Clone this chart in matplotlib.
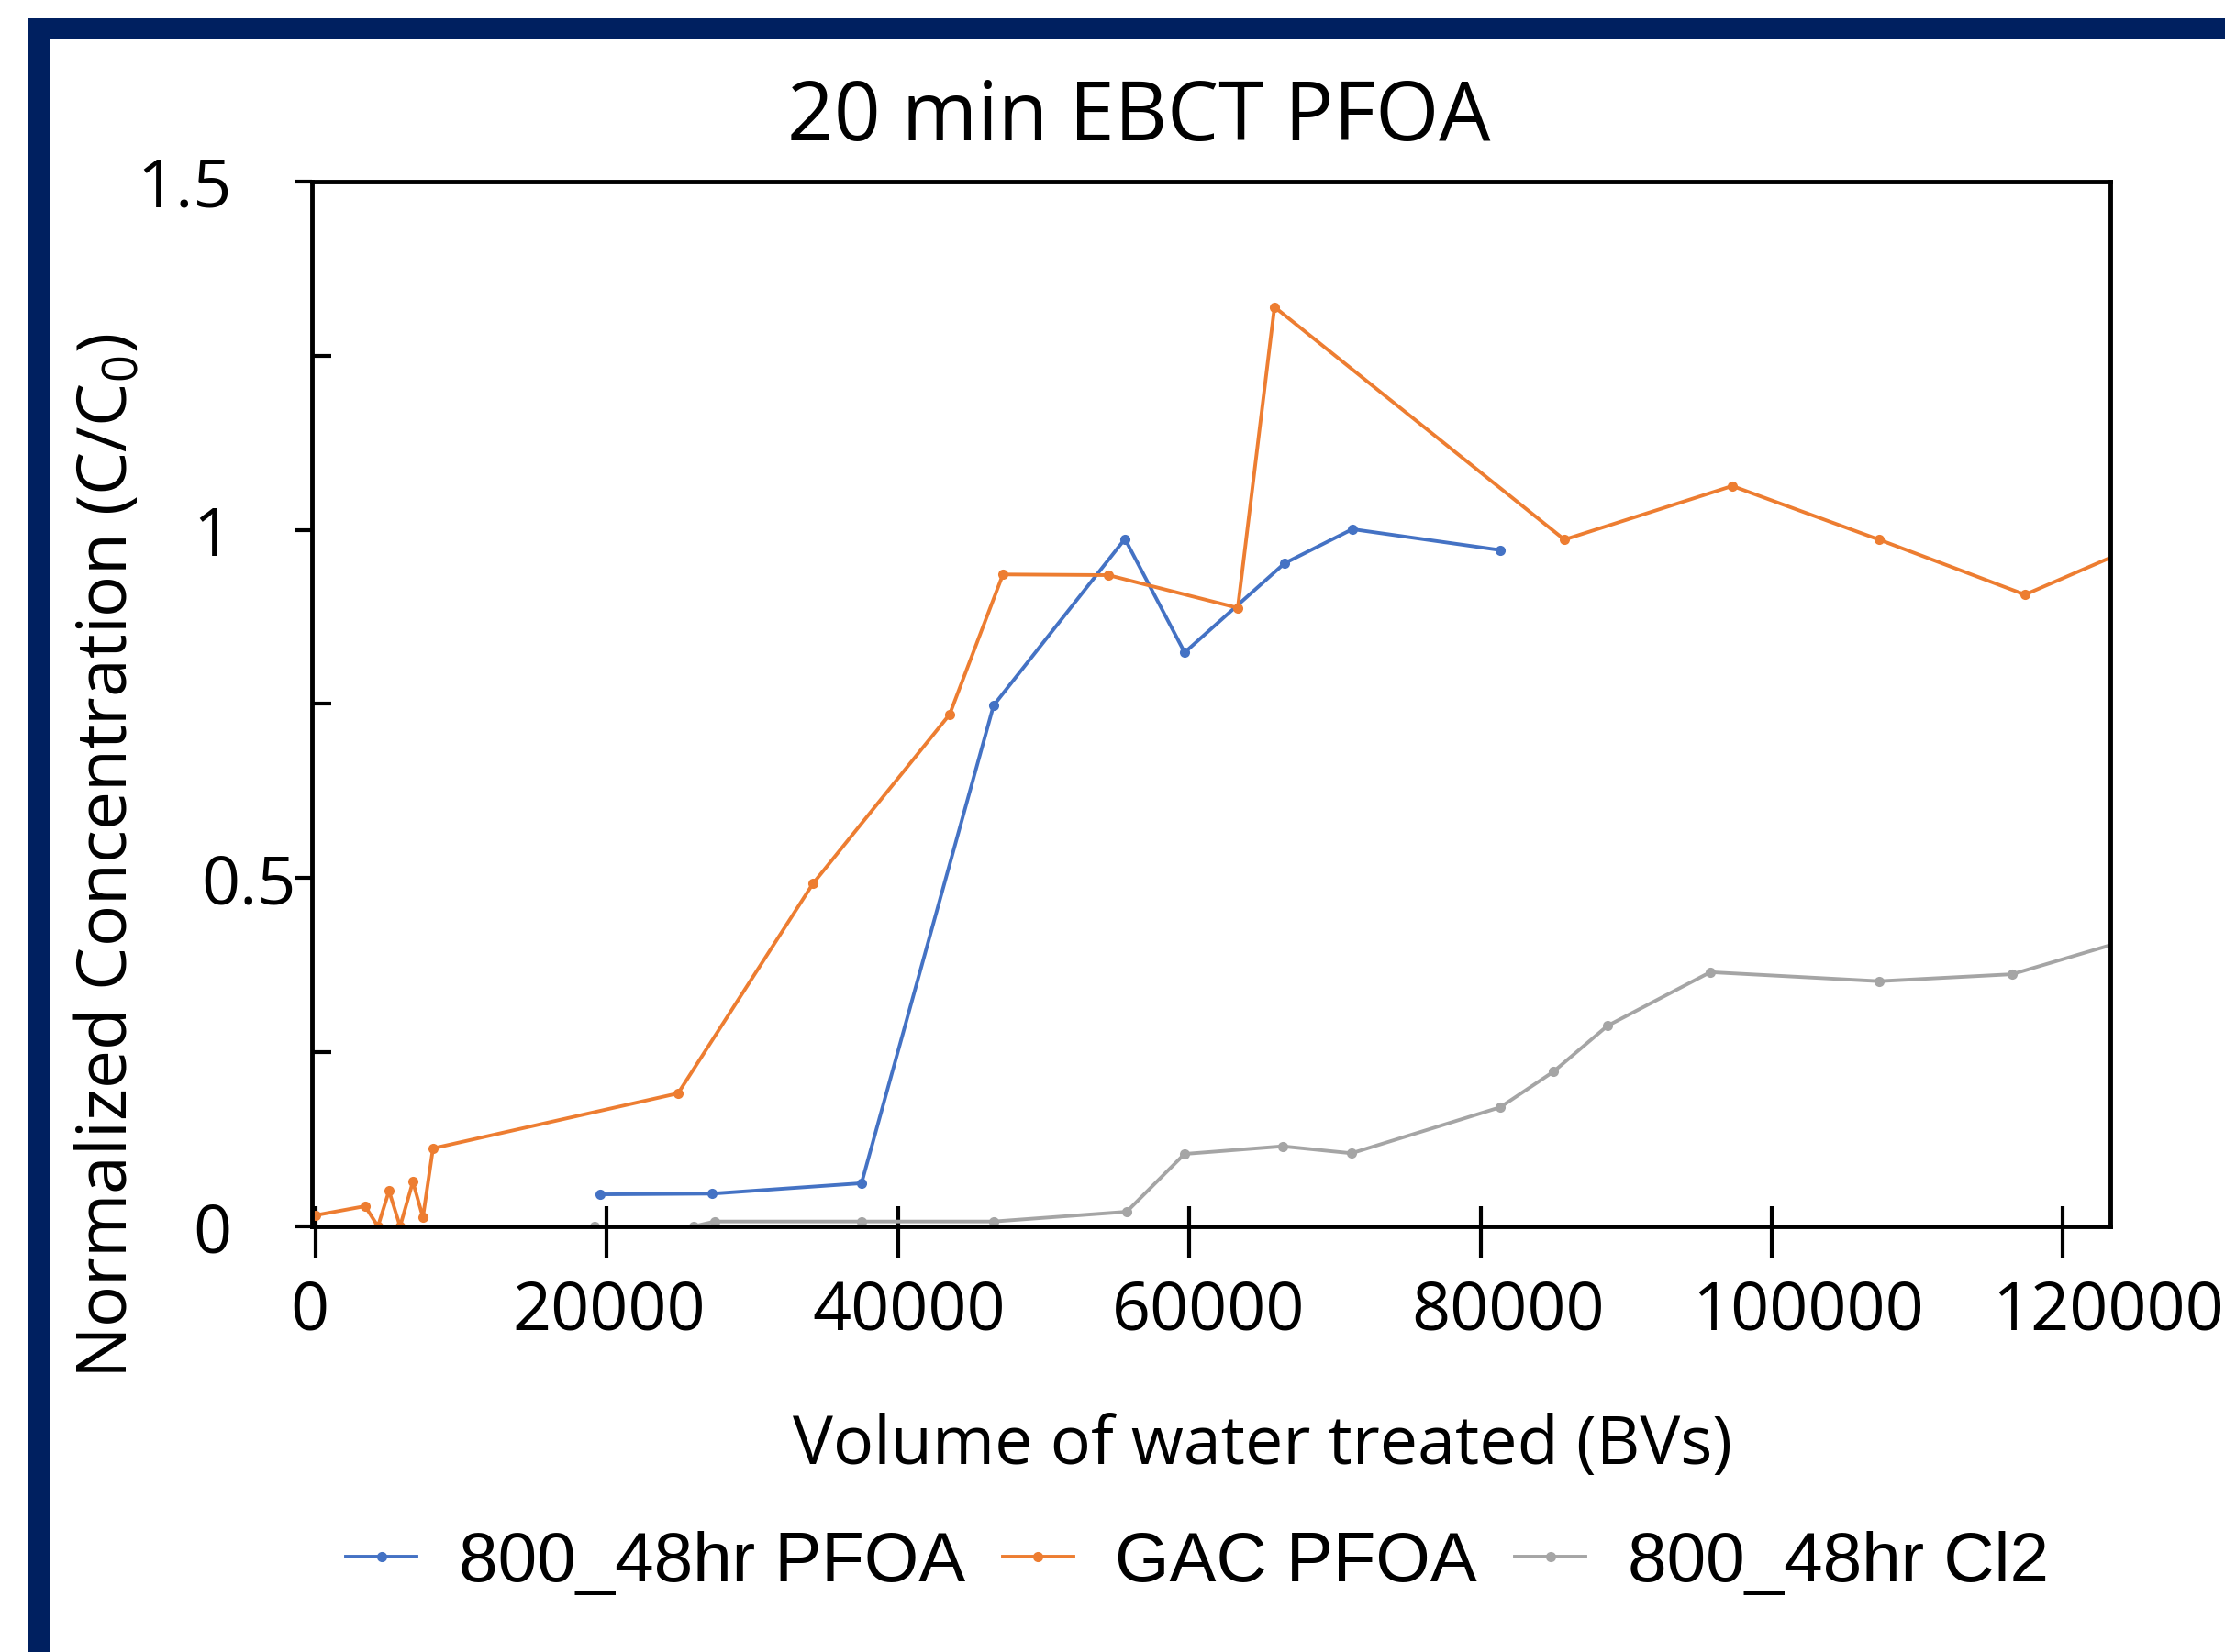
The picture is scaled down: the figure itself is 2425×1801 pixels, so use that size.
import matplotlib
matplotlib.use("Agg")
import matplotlib.pyplot as plt
import matplotlib.transforms as mtransforms
from matplotlib.patches import Rectangle
from matplotlib.ticker import FixedLocator

# data (bed volumes vs C/C0)
bv_800_pfoa = [19530, 27220, 37490, 46560, 55580, 59680, 66540, 71200, 81350]
c_800_pfoa = [0.046, 0.047, 0.062, 0.748, 0.987, 0.824, 0.952, 1.001, 0.971]

bv_gac_pfoa = [0, 3400, 4280, 5040, 5800, 6680, 7370, 8060, 24890, 34150,
               43540, 47200, 54440, 63330, 65850, 85760, 97290, 107370,
               117390, 127000]
c_gac_pfoa = [0.016, 0.029, 0.0, 0.051, 0.0, 0.064, 0.013, 0.112, 0.191, 0.492,
              0.735, 0.936, 0.935, 0.888, 1.320, 0.986, 1.063, 0.986,
              0.907, 0.994]

bv_800_cl2 = [19150, 25960, 27410, 37490, 46560, 55700, 59670, 66410, 71140,
              81350, 85000, 88720, 95780, 107370, 116500, 127000]
c_800_cl2 = [0.0, 0.0, 0.007, 0.007, 0.007, 0.021, 0.104, 0.115, 0.105,
             0.171, 0.222, 0.288, 0.365, 0.352, 0.362, 0.427]

series_labels = ["800_48hr PFOA", "GAC PFOA", "800_48hr Cl2"]
series_colors = ["#4472C4", "#ED7D31", "#A5A5A5"]
x_ticks = [0, 20000, 40000, 60000, 80000, 100000, 120000]
y_ticks = [0, 0.5, 1, 1.5]
y_ticklabels = ["0", "0.5", "1", "1.5"]

plt.rcParams["font.family"] = ["Open Sans", "DejaVu Sans"]
plt.rcParams["mathtext.fontset"] = "custom"
plt.rcParams["mathtext.rm"] = "Open Sans"
plt.rcParams["mathtext.it"] = "Open Sans"

W, H = 2425, 1801
fig = plt.figure(figsize=(W / 100, H / 100), dpi=100)
fig.patch.set_facecolor("white")

# navy frame (top and left edges)
navy = "#002060"
fig.add_artist(Rectangle((31 / W, 1 - 43 / H), 1 - 31 / W, 23 / H,
                         transform=fig.transFigure, color=navy, lw=0))
fig.add_artist(Rectangle((31 / W, 0), 23 / W, 1 - 20 / H,
                         transform=fig.transFigure, color=navy, lw=0))

ax = fig.add_axes([340 / W, 1 - 1337 / H, 1960 / W, 1139 / H])

for xs, ys, lab, col in zip([bv_800_pfoa, bv_gac_pfoa, bv_800_cl2],
                            [c_800_pfoa, c_gac_pfoa, c_800_cl2],
                            series_labels, series_colors):
    ax.plot(xs, ys, color=col, lw=2.8, marker="o", markersize=8,
            markeredgewidth=0, label=lab)

ax.set_xlim(-252, 123250)
ax.set_ylim(0, 1.5)

for sp in ax.spines.values():
    sp.set_linewidth(3.5)
    sp.set_color("black")

# x ticks cross the axis: long outward major + short inward minor
ax.xaxis.set_major_locator(FixedLocator(x_ticks))
ax.xaxis.set_minor_locator(FixedLocator(x_ticks))
ax.xaxis.remove_overlapping_locs = False
ax.set_xticklabels([str(v) for v in x_ticks])
ax.tick_params(axis="x", which="major", direction="out", length=25, width=3,
               labelsize=53, pad=16)
ax.tick_params(axis="x", which="minor", direction="in", length=16, width=3)

ax.yaxis.set_major_locator(FixedLocator(y_ticks))
ax.yaxis.set_minor_locator(FixedLocator([0.25, 0.75, 1.25]))
ax.set_yticklabels(y_ticklabels)
ax.tick_params(axis="y", which="major", direction="out", length=13, width=3,
               labelsize=53, pad=50)
ax.tick_params(axis="y", which="minor", direction="in", length=15, width=3)

# tick labels in the source drift off their ticks
for i, lab in enumerate(ax.get_xticklabels()):
    dx = (-7 + 9.3 * i) / 100
    lab.set_transform(lab.get_transform()
                      + mtransforms.ScaledTranslation(dx, 0, fig.dpi_scale_trans))
ylab_dx = [0, 70, 0, 0]
for lab, dx in zip(ax.get_yticklabels(), ylab_dx):
    lab.set_transform(lab.get_transform()
                      + mtransforms.ScaledTranslation(dx / 100, 0, fig.dpi_scale_trans))

fig.text(1241 / W, 1 - 153 / H, "20 min EBCT PFOA", fontsize=64,
         ha="center", va="baseline")
fig.text(1376 / W, 1 - 1596 / H, "Volume of water treated (BVs)", fontsize=53,
         ha="center", va="baseline")
fig.text(119 / W, 1 - 933 / H, "Normalized Concentration (C/C$_0$)",
         fontsize=54, rotation=90, ha="center", va="center")

leg = fig.legend(loc="center", bbox_to_anchor=(1305 / W, 1 - 1704 / H),
                 ncol=3, frameon=False, handlelength=1.0, handletextpad=0.6,
                 columnspacing=0.54, borderpad=0,
                 prop={"family": "Liberation Sans", "size": 55})

fig.savefig("out.png", dpi=100)
plt.close(fig)
